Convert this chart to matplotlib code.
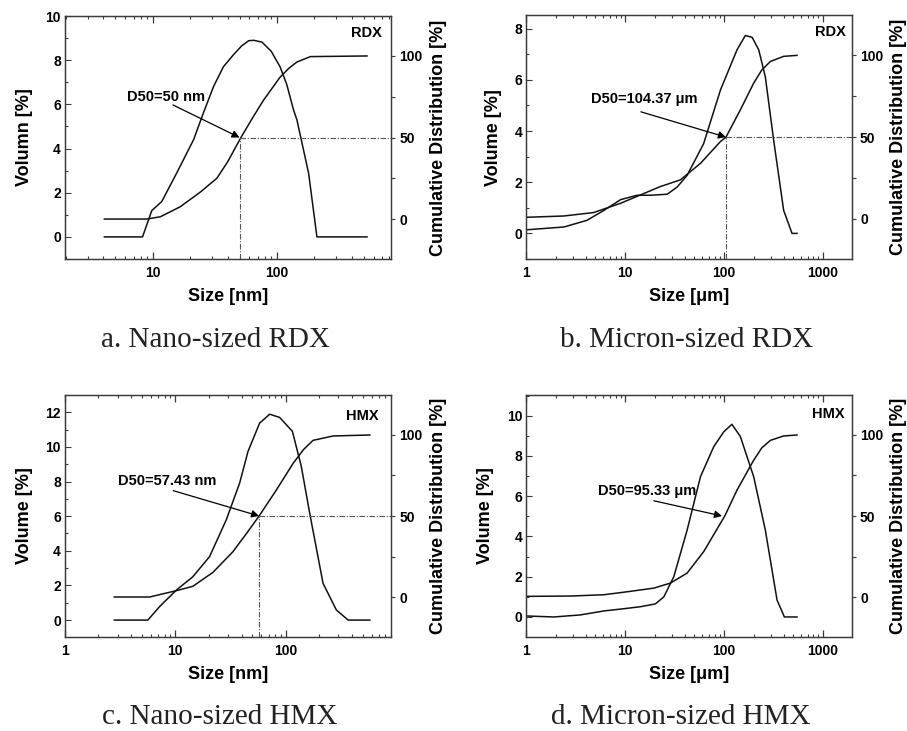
import matplotlib
matplotlib.use("Agg")
import matplotlib.pyplot as plt
from matplotlib.ticker import LogLocator, FuncFormatter, AutoMinorLocator, MultipleLocator, NullFormatter

plt.rcParams['font.family'] = ['Liberation Sans', 'DejaVu Sans']
plt.rcParams['font.weight'] = 'bold'

# ---------------- data ----------------
# a. Nano-sized RDX
a_vol_x = [4.07, 8.26, 9.8, 11.8, 15.6, 21.3, 25.5, 30.8, 37, 44.7, 52, 59.2, 64.9, 75.7, 90, 106, 120, 136, 145, 180, 210, 532]
a_vol_y = [0, 0, 1.19, 1.6, 2.9, 4.4, 5.6, 6.8, 7.7, 8.25, 8.65, 8.88, 8.9, 8.82, 8.4, 7.7, 6.9, 5.75, 5.29, 2.88, 0, 0]
a_cum_x = [4.07, 8.95, 11.5, 16.6, 24.1, 32.8, 40, 51.3, 63, 78, 106, 125, 145, 186, 532]
a_cum_y = [0, 0, 1.4, 7.5, 16.5, 25, 35, 50, 61.5, 72.9, 87, 92.5, 96.3, 99.6, 100]
a_d50 = 50

# b. Micron-sized RDX
b_vol_x = [1, 2.4, 4.1, 6.1, 9, 13.2, 18, 26.6, 33.5, 42.3, 62, 91.8, 135, 164, 192, 224, 261, 317, 400, 486, 546]
b_vol_y = [0.14, 0.25, 0.51, 0.9, 1.32, 1.49, 1.49, 1.53, 1.81, 2.27, 3.5, 5.6, 7.17, 7.73, 7.66, 7.17, 6.12, 3.64, 0.9, 0, 0]
b_cum_x = [1, 2.4, 4.8, 9, 14.3, 22.7, 36.2, 57.7, 91.8, 104.37, 146, 199, 240, 294, 400, 546]
b_cum_y = [1.0, 1.8, 3.9, 9.6, 14.7, 19.8, 23.9, 34, 47.3, 50, 66.7, 83, 91, 96.3, 99.4, 100]
b_d50 = 104.37

# c. Nano-sized HMX
c_vol_x = [2.8, 5.63, 7.18, 10.2, 14.4, 20.4, 28.9, 38.2, 45.5, 58, 71.6, 88.2, 115, 138.6, 165, 218, 288, 368, 579]
c_vol_y = [0, 0, 0.77, 1.73, 2.5, 3.66, 5.78, 7.9, 9.73, 11.37, 11.89, 11.7, 10.9, 8.86, 6.17, 2.12, 0.58, 0, 0]
c_cum_x = [2.8, 5.84, 10.2, 14.4, 21.9, 33.3, 43.9, 57.43, 82.2, 116.5, 145, 177, 269, 579]
c_cum_y = [0, 0, 3.9, 6.6, 15.2, 28, 39, 50, 66, 82.4, 91, 96.7, 99.4, 100]
c_d50 = 57.43

# d. Micron-sized HMX
d_vol_x = [1, 1.9, 3.5, 6.1, 9.7, 14.3, 20.2, 24.6, 31, 42.3, 57.7, 78.6, 99.3, 120, 146, 199, 261, 343, 407, 546]
d_vol_y = [0.05, 0, 0.1, 0.3, 0.41, 0.51, 0.65, 1.0, 2.0, 4.32, 6.97, 8.46, 9.2, 9.57, 8.96, 6.97, 4.32, 0.84, 0, 0]
d_cum_x = [1, 2.8, 6.1, 11.3, 19.5, 28.7, 42.3, 62.3, 91.8, 101.6, 135, 199, 240, 294, 400, 546]
d_cum_y = [0.4, 0.6, 1.4, 3.5, 5.5, 8.6, 14.8, 28.1, 45.5, 50, 66, 84.4, 92, 96.7, 99.4, 100]
d_d50 = 95.33

panels = [
    dict(vx=a_vol_x, vy=a_vol_y, cx=a_cum_x, cy=a_cum_y, d50=a_d50, dash=True,
         xlim=(1.96, 830), ylim=(-1, 10), yticks=[0, 2, 4, 6, 8, 10],
         xlabel='Size [nm]', ylabel='Volumn [%]', tag='RDX', tagpos=(0.926, 0.93),
         note='D50=50 nm', notepos=(0.31, 0.667), arrowstart=(0.331, 0.634),
         caption='a. Nano-sized RDX', rect=(65, 16, 391, 259), cap=(215.6, 347)),
    dict(vx=b_vol_x, vy=b_vol_y, cx=b_cum_x, cy=b_cum_y, d50=b_d50, dash=True,
         xlim=(1, 1950), ylim=(-1, 8.52), yticks=[0, 2, 4, 6, 8],
         xlabel='Size [μm]', ylabel='Volume [%]', tag='RDX', tagpos=(0.936, 0.93),
         note='D50=104.37 μm', notepos=(0.364, 0.657), arrowstart=(0.352, 0.604),
         caption='b. Micron-sized RDX', rect=(526.3, 15.3, 851.7, 259), cap=(686.5, 347)),
    dict(vx=c_vol_x, vy=c_vol_y, cx=c_cum_x, cy=c_cum_y, d50=c_d50, dash=True,
         xlim=(1, 900), ylim=(-0.96, 12.98), yticks=[0, 2, 4, 6, 8, 10, 12],
         xlabel='Size [nm]', ylabel='Volume [%]', tag='HMX', tagpos=(0.911, 0.914),
         note='D50=57.43 nm', notepos=(0.314, 0.645), arrowstart=(0.332, 0.605),
         caption='c. Nano-sized HMX', rect=(65, 395.3, 391, 636.7), cap=(220, 724)),
    dict(vx=d_vol_x, vy=d_vol_y, cx=d_cum_x, cy=d_cum_y, d50=d_d50, dash=False,
         xlim=(1, 1950), ylim=(-0.98, 11.01), yticks=[0, 2, 4, 6, 8, 10],
         xlabel='Size [μm]', ylabel='Volume [%]', tag='HMX', tagpos=(0.927, 0.922),
         note='D50=95.33 μm', notepos=(0.372, 0.604), arrowstart=(0.392, 0.563),
         caption='d. Micron-sized HMX', rect=(526.3, 395.3, 851.7, 636.7), cap=(681, 724)),
]

W, H = 907, 731
fig = plt.figure(figsize=(W / 100, H / 100), dpi=100)
spine_c = '#3a3a3a'
line_c = '#111111'
fmt = FuncFormatter(lambda v, p: '%g' % v)

for P in panels:
    x0, y0, x1, y1 = P['rect']
    ax = fig.add_axes([x0 / W, 1 - y1 / H, (x1 - x0) / W, (y1 - y0) / H])
    ax2 = ax.twinx()
    ax.set_xscale('log')
    ax.set_xlim(*P['xlim'])
    ax.set_ylim(*P['ylim'])
    ax2.set_ylim(-24.5, 124.5)

    ax.plot(P['vx'], P['vy'], color=line_c, lw=1.1)
    ax2.plot(P['cx'], P['cy'], color=line_c, lw=1.1)

    if P['dash']:
        ax2.plot([P['d50'], P['xlim'][1]], [50, 50], color='#555555', lw=0.8, ls='-.', dashes=(5, 1.5, 1, 1.5))
        ax2.plot([P['d50'], P['d50']], [-24.5, 50], color='#555555', lw=0.8, ls='-.', dashes=(5, 1.5, 1, 1.5))

    ax2.annotate('', xy=(P['d50'], 50), xycoords='data',
                 xytext=P['arrowstart'], textcoords='axes fraction',
                 arrowprops=dict(arrowstyle='-|>', color='k', lw=0.9, mutation_scale=11,
                                 shrinkA=0, shrinkB=0))
    ax.text(*P['notepos'], P['note'], transform=ax.transAxes, ha='center', va='center',
            fontsize=10.5, fontweight='bold')
    ax.text(*P['tagpos'], P['tag'], transform=ax.transAxes, ha='center', va='center',
            fontsize=10.5, fontweight='bold')

    ax.xaxis.set_major_locator(LogLocator(base=10, numticks=10))
    ax.xaxis.set_minor_locator(LogLocator(base=10, subs=range(2, 10), numticks=20))
    ax.xaxis.set_major_formatter(fmt)
    ax.xaxis.set_minor_formatter(NullFormatter())
    ax.set_yticks(P['yticks'])
    ax.yaxis.set_minor_locator(AutoMinorLocator(2))
    ax2.set_yticks([0, 50, 100])
    ax2.yaxis.set_minor_locator(MultipleLocator(25))

    ax.tick_params(axis='x', which='both', direction='in', top=True, bottom=True,
                   labelsize=10, pad=5, color=spine_c)
    ax.tick_params(axis='x', which='major', length=5, width=0.9)
    ax.tick_params(axis='x', which='minor', length=2.5, width=0.8)
    ax.tick_params(axis='y', which='both', direction='in', left=True, right=False,
                   labelsize=10, pad=3, color=spine_c)
    ax.tick_params(axis='y', which='major', length=4, width=0.8)
    ax.tick_params(axis='y', which='minor', length=2.5, width=0.8)
    ax2.tick_params(axis='y', which='both', direction='out', labelsize=10, pad=3, color=spine_c)
    ax2.tick_params(axis='y', which='major', length=3, width=0.8)
    ax2.tick_params(axis='y', which='minor', length=3, width=0.8)
    for lab in ax.get_xticklabels() + ax.get_yticklabels() + ax2.get_yticklabels():
        lab.set_fontweight('bold')

    for a in (ax, ax2):
        for s in a.spines.values():
            s.set_color(spine_c)
            s.set_linewidth(0.9)

    ax.set_xlabel(P['xlabel'], fontsize=13, fontweight='bold', labelpad=6)
    ax.set_ylabel(P['ylabel'], fontsize=13, fontweight='bold', labelpad=9)
    ax2.set_ylabel('Cumulative Distribution [%]', fontsize=13, fontweight='bold', labelpad=5)

    fig.text(P['cap'][0] / W, 1 - P['cap'][1] / H, P['caption'], family='Liberation Serif',
             fontsize=21, fontweight='normal', ha='center', va='baseline', color='#222222')

fig.savefig('out.png', dpi=100)
